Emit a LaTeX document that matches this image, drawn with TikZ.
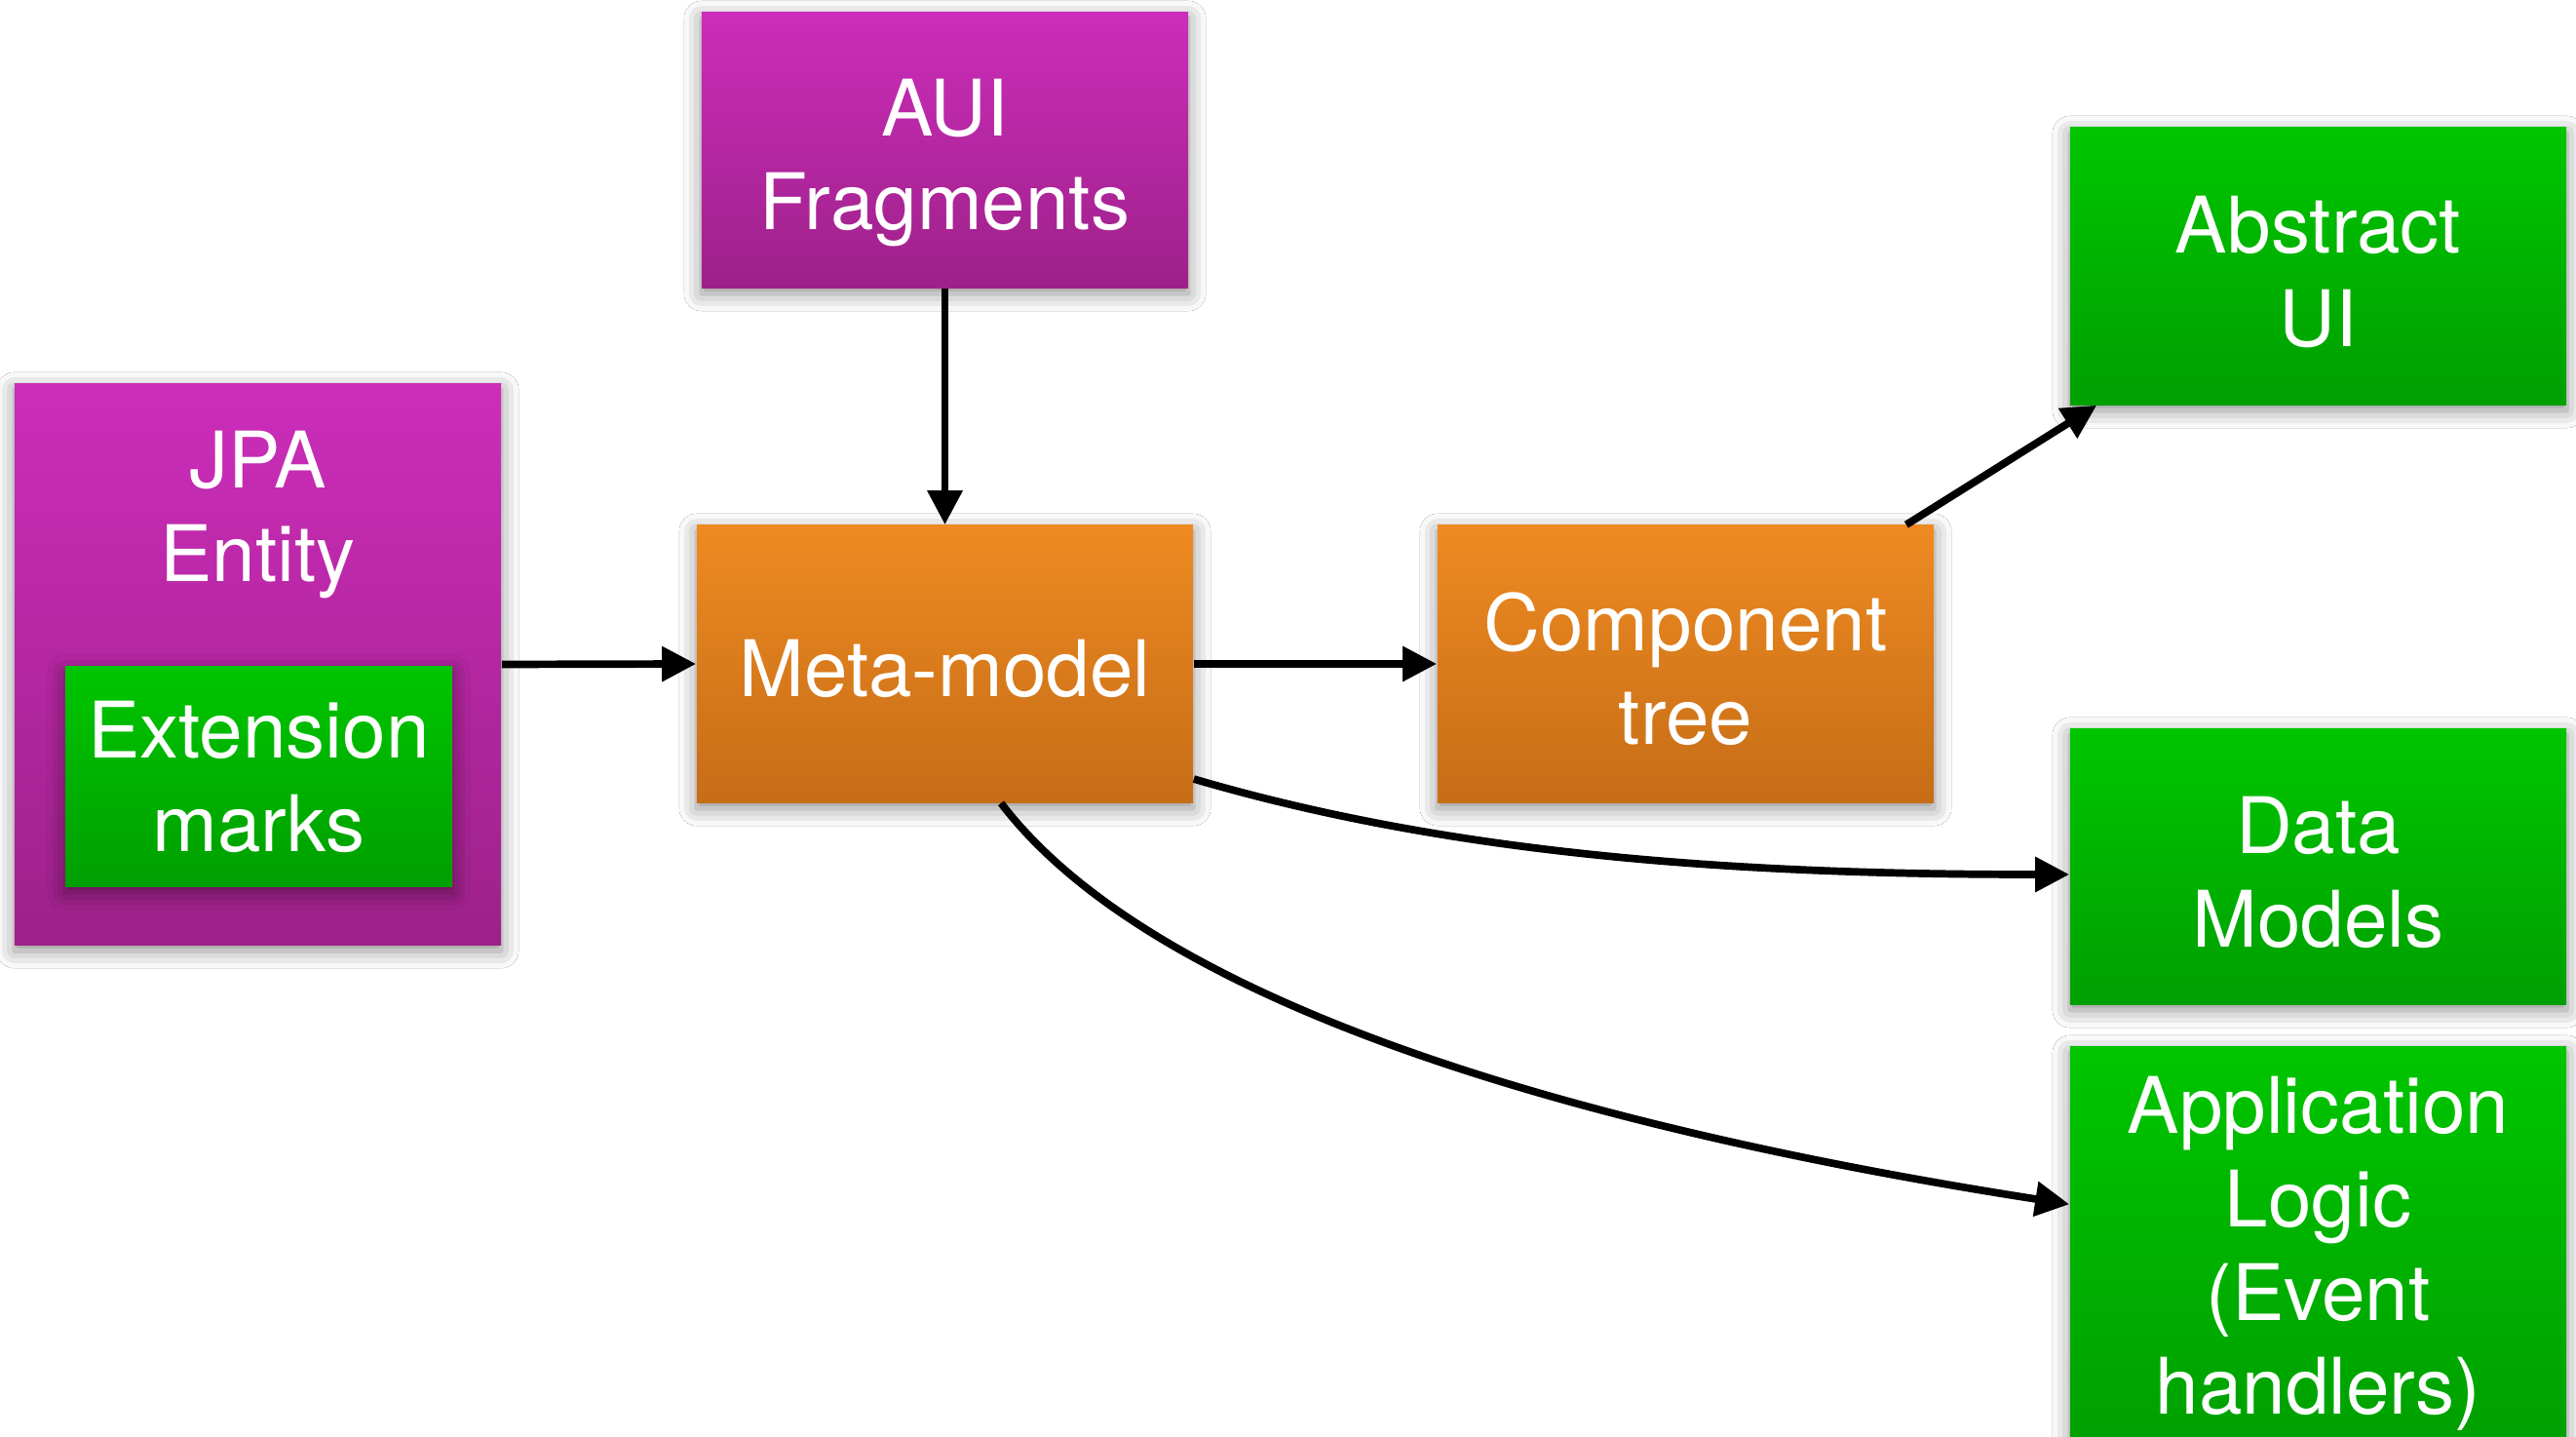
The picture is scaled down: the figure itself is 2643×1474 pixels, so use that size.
\documentclass[tikz,border=0pt]{standalone}
\usepackage{fontspec}
\setmainfont{TeX Gyre Heros}
\usetikzlibrary{arrows.meta,shadows.blur}
\definecolor{purpT}{HTML}{CC2DBA}
\definecolor{purpB}{HTML}{9D2189}
\definecolor{oranT}{HTML}{EE8A21}
\definecolor{oranB}{HTML}{C66D17}
\definecolor{greenT}{HTML}{00C500}
\definecolor{greenB}{HTML}{009F00}
\newcommand\txtpush[1]{\rule{0pt}{#1}}
\begin{document}
\begin{tikzpicture}[x=0.01cm,y=-0.01cm,
  txt/.style={text=white, align=center, inner sep=0pt, font=\fontsize{22.76pt}{27.3pt}\selectfont},
  box/.style={rectangle, txt, blur shadow={shadow xshift=0pt, shadow yshift=-0.06cm, shadow blur radius=0.18cm, shadow opacity=45}},
  purplebox/.style={box, top color=purpT, bottom color=purpB},
  orangebox/.style={box, top color=oranT, bottom color=oranB},
  greenbox/.style={box, top color=greenT, bottom color=greenB},
  conn/.style={line width=0.077cm, -{Triangle[length=0.35cm,width=0.345cm]}}
]
\clip (0,0) rectangle (2643,1474);
\fill[white] (0,0) rectangle (2643,1474);

\node[purplebox, minimum width=4.99cm, minimum height=2.82cm] (aui) at (969.5,154) {\txtpush{0.85cm}AUI\\Fragments};
\node[purplebox, minimum width=4.99cm, minimum height=5.75cm] (jpa) at (264.5,681.5) {};
\node[txt] (jpatxt) at (264.5,528) {JPA\\Entity};
\node[greenbox, minimum width=3.97cm, minimum height=2.25cm] (ext) at (265.5,796.5) {Extension\\marks};
\node[orangebox, minimum width=5.09cm, minimum height=2.84cm] (meta) at (969.5,681) {\txtpush{0.68cm}Meta-model};
\node[orangebox, minimum width=5.09cm, minimum height=2.84cm] (comp) at (1729.5,681) {\txtpush{0.70cm}Component\\tree};
\node[greenbox, minimum width=5.09cm, minimum height=2.84cm] (abs) at (2378.5,273) {\txtpush{0.70cm}Abstract\\UI};
\node[greenbox, minimum width=5.09cm, minimum height=2.82cm] (dm) at (2378.5,889) {\txtpush{0.71cm}Data\\Models};
\node[greenbox, minimum width=5.09cm, minimum height=4.10cm] (app) at (2378.5,1279) {\txtpush{0.71cm}Application\\Logic\\(Event\\handlers)};

\draw[conn] (aui) -- (meta);
\draw[conn] (jpa.east) -- (meta.west);
\draw[conn] (meta.east) -- (comp.west);
\draw[conn] ([xshift=-0.29cm]comp.north east) -- ([xshift=0.28cm]abs.south west);
\draw[conn] ([yshift=-1.18cm]meta.east) .. controls +(276,81) and +(-324,0) .. ([yshift=-0.08cm]dm.west);
\draw[conn] ([xshift=0.575cm]meta.south) .. controls +(173,227) and +(-424,-66) .. ([yshift=-1.62cm]app.north west);
\end{tikzpicture}
\end{document}
